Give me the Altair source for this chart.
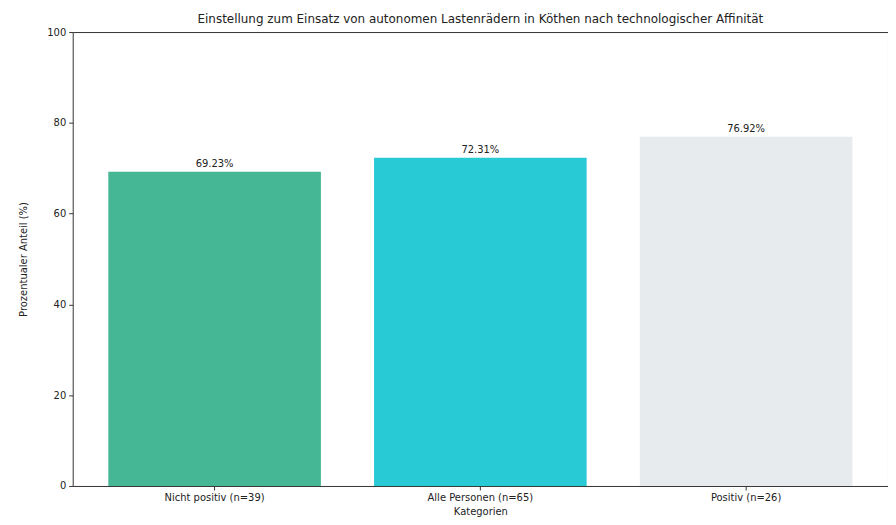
import altair as alt
import pandas as pd

categories = ["Nicht positiv (n=39)", "Alle Personen (n=65)", "Positiv (n=26)"]
values = [69.23, 72.31, 76.92]
colors = ["#45b794", "#28cad6", "#e8ebee"]
labels = ["69.23%", "72.31%", "76.92%"]

df = pd.DataFrame({"cat": categories, "val": values, "col": colors, "lab": labels})

font = "DejaVu Sans"

x = alt.X("cat:N", sort=categories, title="Kategorien",
          scale=alt.Scale(paddingInner=0.2, paddingOuter=0.134),
          axis=alt.Axis(labelAngle=0, labelFontSize=10, titleFontSize=10, labelColor="#222",
                        titleColor="#222", labelFont=font, titleFont=font, tickSize=4,
                        domain=False, tickColor="#333", labelPadding=3, titlePadding=4,
                        titleFontWeight="normal"))
y = alt.Y("val:Q", title="Prozentualer Anteil (%)",
          scale=alt.Scale(domain=[0, 100], nice=False),
          axis=alt.Axis(values=[0, 20, 40, 60, 80, 100], grid=False, labelFontSize=10,
                        titleFontSize=10, labelColor="#222", titleColor="#222", labelFont=font,
                        titleFont=font, tickSize=4, domain=False, tickColor="#333",
                        labelPadding=3, titlePadding=18, titleFontWeight="normal"))

bars = alt.Chart(df).mark_bar().encode(x=x, y=y, color=alt.Color("col:N", scale=None))
text = alt.Chart(df).mark_text(dy=-8, fontSize=10, font=font, color="#222").encode(
    x=alt.X("cat:N", sort=categories), y="val:Q", text="lab:N")

chart = alt.layer(bars, text).properties(
    width=819, height=456,
    title=alt.TitleParams("Einstellung zum Einsatz von autonomen Lastenrädern in Köthen nach technologischer Affinität",
                          fontSize=12, font=font, fontWeight="normal", color="#222", offset=1),
    autosize=alt.AutoSizeParams(type="none"),
    padding={"left": 65, "top": 23, "right": 0, "bottom": 30},
).configure(background="white").configure_view(stroke="#333", strokeWidth=1)

chart.save("out.html", embed_options={"renderer": "svg", "actions": False})
